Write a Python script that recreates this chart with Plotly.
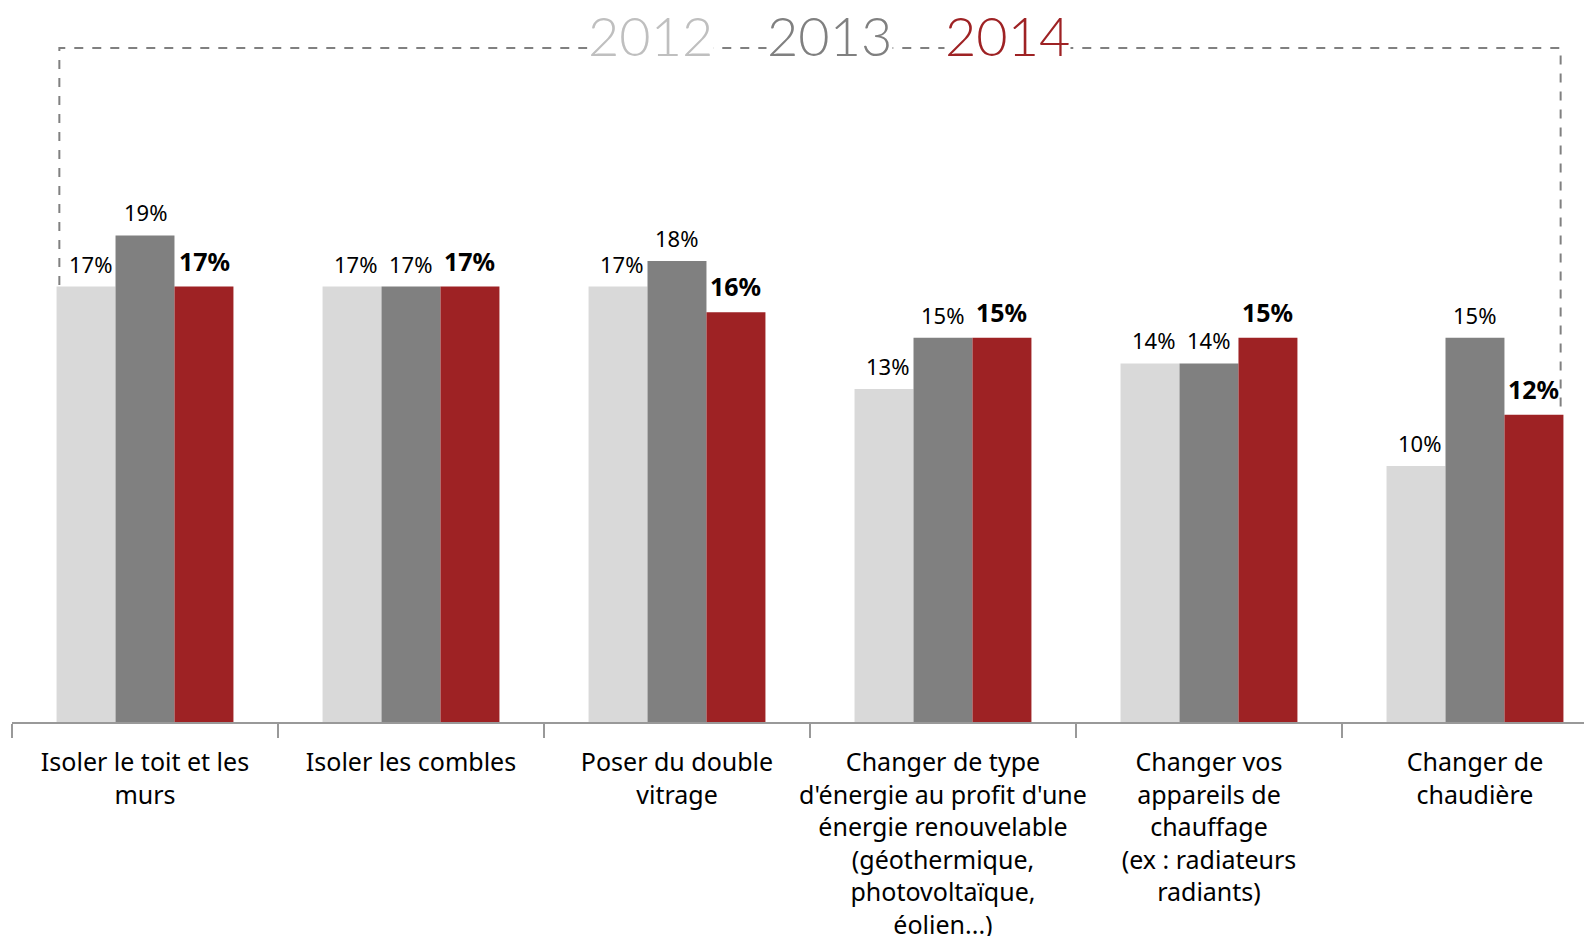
import plotly.graph_objects as go

categories = [
    "Isoler le toit et les<br>murs",
    "Isoler les combles",
    "Poser du double<br>vitrage",
    "Changer de type<br>d'énergie au profit d'une<br>énergie renouvelable<br>(géothermique,<br>photovoltaïque,<br>éolien...)",
    "Changer vos<br>appareils de<br>chauffage<br>(ex : radiateurs<br>radiants)",
    "Changer de<br>chaudière",
]
years = ["2012", "2013", "2014"]
values_2012 = [17, 17, 17, 13, 14, 10]
values_2013 = [19, 17, 18, 15, 14, 15]
values_2014 = [17, 17, 16, 15, 15, 12]

colors = ["#D9D9D9", "#808080", "#9E2224"]
series = [values_2012, values_2013, values_2014]

fig = go.Figure()
for year, vals, col in zip(years, series, colors):
    fig.add_trace(go.Bar(x=categories, y=vals, name=year, marker_color=col,
                         marker_line_width=0))

# data labels above each bar (2014 in bold)
bar_px = 59
annots = []
for i, vals in enumerate(series):
    for cat, v in zip(categories, vals):
        bold = i == 2
        annots.append(dict(
            x=cat, y=v, xref="x", yref="y", showarrow=False,
            text=f"<b>{v}%</b>" if bold else f"{v}%",
            xanchor="center", yanchor="bottom",
            xshift=(i - 1) * bar_px + (4 if i == 0 else 0), yshift=7 if bold else 6,
            font=dict(family="Noto Sans", size=25 if bold else 22, color="black"),
        ))

# years header over the dashed frame
year_pos = [0.4018, 0.515, 0.6266]
for year, col, xp in zip(years, ["#BFBFBF", "#808080", "#9E2224"], year_pos):
    annots.append(dict(
        x=xp, y=0.964, xref="paper", yref="paper", showarrow=False,
        text=year, xanchor="center", yanchor="middle", bgcolor="white",
        borderpad=0,
        font=dict(family="Lato", size=54, color=col, weight=300),
    ))

fig.update_layout(
    annotations=annots,
    barmode="group",
    bargap=0.335,
    bargroupgap=0,
    showlegend=False,
    plot_bgcolor="white",
    paper_bgcolor="white",
    width=1592, height=936,
    margin=dict(l=4, r=0, t=2, b=222),
    xaxis=dict(
        range=[-0.5, 5.47],
        tickson="boundaries", tickangle=0, automargin=False,
        ticks="outside", ticklen=14, tickcolor="#999999", tickwidth=2,
        ticklabelstandoff=17,
        showline=True, linecolor="#999999", linewidth=2,
        tickfont=dict(family="Noto Sans", size=25, color="black"),
        showgrid=False,
    ),
    yaxis=dict(range=[0, 27.8], visible=False, showgrid=False, automargin=False),
    shapes=[dict(
        type="rect", xref="x", yref="y", x0=-0.322, x1=5.322, y0=-0.05, y1=26.32,
        line=dict(color="#808080", width=2, dash="dash"), layer="below",
    )],
)

fig.write_html("out.html")
